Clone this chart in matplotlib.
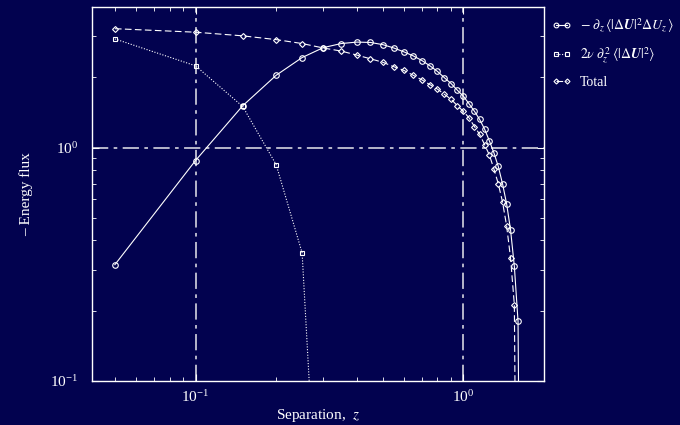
import matplotlib
matplotlib.use('Agg')
import matplotlib.pyplot as plt
import numpy as np

# separations
z_adv = [0.05, 0.10, 0.15, 0.20, 0.25, 0.30, 0.35, 0.40, 0.45, 0.50, 0.55, 0.60,
         0.65, 0.70, 0.75, 0.80, 0.85, 0.90, 0.95, 1.00, 1.05, 1.10, 1.15, 1.20,
         1.25, 1.30, 1.35, 1.40, 1.45, 1.50, 1.55, 1.60, 1.65]
flux_adv = [0.315, 0.88, 1.51, 2.04, 2.43, 2.68, 2.79, 2.83, 2.82, 2.76, 2.67, 2.57,
            2.47, 2.36, 2.24, 2.12, 1.99, 1.88, 1.76, 1.66, 1.54, 1.43, 1.32, 1.20,
            1.07, 0.95, 0.83, 0.70, 0.575, 0.445, 0.31, 0.18, 0.002]

z_visc = [0.05, 0.10, 0.15, 0.20, 0.25, 0.30]
flux_visc = [2.92, 2.24, 1.50, 0.845, 0.354, 0.008]

z_tot = [0.05, 0.10, 0.15, 0.20, 0.25, 0.30, 0.35, 0.40, 0.45, 0.50, 0.55, 0.60,
         0.65, 0.70, 0.75, 0.80, 0.85, 0.90, 0.95, 1.00, 1.05, 1.10, 1.15, 1.20,
         1.25, 1.30, 1.35, 1.40, 1.45, 1.50, 1.55, 1.60]
flux_tot = [3.23, 3.12, 3.01, 2.90, 2.79, 2.67, 2.59, 2.49, 2.40, 2.32, 2.22, 2.14,
            2.04, 1.95, 1.86, 1.78, 1.69, 1.61, 1.51, 1.43, 1.34, 1.23, 1.14, 1.03,
            0.93, 0.81, 0.70, 0.585, 0.463, 0.337, 0.212, 0.002]

bg = '#02024f'
fg = 'white'
ref = '#c4c4d4'

plt.rcParams['font.family'] = ['Liberation Serif', 'DejaVu Serif']
plt.rcParams['mathtext.fontset'] = 'stix'
plt.rcParams['font.size'] = 10

fig = plt.figure(figsize=(6.8, 4.25), dpi=100, facecolor=bg)
ax = fig.add_axes([0.135, 0.1035, 0.665, 0.88], facecolor=bg)

ax.set_xscale('log')
ax.set_yscale('log')
ax.set_xlim(0.041, 2.0)
ax.set_ylim(0.1, 4.0)

ax.axvline(0.1, color=ref, lw=1.3, ls=(0, (9, 3, 2, 3)), zorder=1)
ax.axvline(1.0, color=ref, lw=1.3, ls=(0, (9, 3, 2, 3)), zorder=1)
ax.axhline(1.0, color=ref, lw=1.3, ls=(0, (9, 3, 2, 3)), zorder=1)

ax.plot(z_adv, flux_adv, color=fg, lw=0.8, ls='-', marker='o', ms=4,
        mfc='none', mec=fg, mew=0.8,
        label=r'$-\;\partial_z\,\langle|\Delta\boldsymbol{U}|^2\Delta U_z\,\rangle$')
ax.plot(z_visc, flux_visc, color=fg, lw=0.8, ls=(0, (1, 1.5)), marker='s', ms=3.2,
        mfc='none', mec=fg, mew=0.8,
        label=r'$2\nu\;\partial_z^{\;2}\,\langle|\Delta\boldsymbol{U}|^2\rangle$')
ax.plot(z_tot, flux_tot, color=fg, lw=0.8, ls=(0, (6, 3)), marker='D', ms=3,
        mfc='none', mec=fg, mew=0.8, label='Total')

for s in ax.spines.values():
    s.set_color(fg)
    s.set_linewidth(1.0)
ax.tick_params(which='both', direction='in', top=True, right=True, colors=fg,
               labelcolor=fg, labelsize=11)
ax.tick_params(which='major', length=5)
ax.tick_params(which='minor', length=3)
ax.tick_params(axis='x', pad=6)
ax.tick_params(axis='y', pad=10)

ax.set_xlabel('Separation,  $z$', color=fg, fontsize=11, labelpad=1)
ax.set_ylabel('– Energy flux', color=fg, fontsize=11, labelpad=12)

leg = ax.legend(loc='upper left', bbox_to_anchor=(1.005, 0.99), frameon=False,
                numpoints=2, handlelength=1.4, handletextpad=0.6, labelspacing=0.8,
                fontsize=10, borderaxespad=0.0, markerscale=0.85)
for t in leg.get_texts():
    t.set_color(fg)

fig.savefig('out.png', dpi=100, facecolor=bg)
